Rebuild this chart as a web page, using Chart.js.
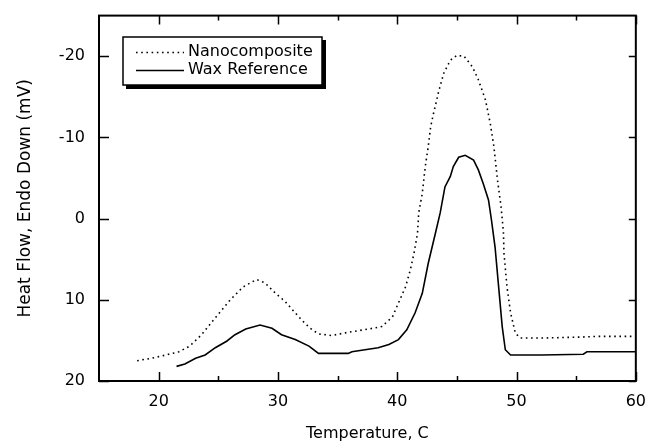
<!DOCTYPE html>
<html>
<head>
<meta charset="utf-8">
<script src="https://cdn.jsdelivr.net/npm/chart.js@4"></script>
<style>
  body { margin: 0; background: #fff; }
</style>
</head>
<body>
<canvas id="dsc" width="649" height="444"></canvas>
<script>
const nanoT = [18.2, 19.4, 20.6, 21.7, 22.6, 23.6, 24.7, 26.0, 27.1, 28.2, 28.9, 29.8, 30.6, 31.2, 32.0, 32.7, 33.4, 34.5, 35.9, 37.6, 38.7, 39.6, 40.1, 40.7, 41.1, 41.4, 41.7, 41.8, 42.1, 42.35, 42.6, 42.8, 43.05, 43.5, 43.9, 44.45, 45.0, 45.6, 46.3, 46.8, 47.4, 47.8, 48.1, 48.4, 48.7, 48.9, 48.95, 49.2, 49.5, 49.9, 50.3, 52.4, 55.2, 56.9, 60.0];
const nanoHF = [17.5, 17.2, 16.8, 16.4, 15.7, 14.3, 12.3, 10.0, 8.4, 7.5, 7.9, 9.2, 10.2, 11.2, 12.5, 13.5, 14.2, 14.4, 14.0, 13.6, 13.3, 12.1, 10.4, 8.4, 6.3, 4.3, 1.8, -0.7, -3.1, -6.4, -8.9, -11.3, -13.0, -15.8, -17.9, -19.5, -20.1, -20.0, -18.7, -17.1, -14.6, -11.7, -8.9, -4.8, -1.5, 1.6, 4.3, 8.4, 11.6, 14.1, 14.7, 14.7, 14.6, 14.5, 14.5];

const waxT = [21.5, 22.2, 23.1, 23.9, 24.75, 25.7, 26.4, 27.3, 28.5, 29.5, 30.3, 31.45, 32.6, 33.4, 35.9, 36.2, 38.4, 39.3, 40.1, 40.8, 41.5, 42.1, 42.6, 43.2, 43.6, 44.0, 44.45, 44.7, 45.15, 45.7, 46.4, 46.8, 47.2, 47.65, 47.9, 48.2, 48.5, 48.8, 49.06, 49.5, 52.1, 55.6, 55.9, 60.0];
const waxHF = [18.2, 17.9, 17.2, 16.8, 15.9, 15.1, 14.3, 13.6, 13.1, 13.5, 14.3, 14.9, 15.7, 16.6, 16.6, 16.4, 15.9, 15.5, 14.9, 13.7, 11.6, 9.2, 5.5, 1.8, -0.7, -3.9, -5.2, -6.4, -7.55, -7.8, -7.2, -6.0, -4.35, -2.3, 0.2, 3.5, 8.4, 13.3, 16.15, 16.8, 16.8, 16.7, 16.4, 16.4];

const xTicks = [20, 30, 40, 50, 60];
const xMinorTicks = [25, 35, 45, 55];
const yTicks = [-20, -10, 0, 10, 20];

Chart.defaults.font.family = 'DejaVu Sans';
Chart.defaults.font.size = 16;
Chart.defaults.color = '#000';

const toPoints = (xs, ys) => xs.map((x, i) => ({ x: x, y: ys[i] }));

// frame, inward tick marks and the boxed legend with a drop shadow
const framePlugin = {
  id: 'frame',
  afterDraw(chart) {
    const ctx = chart.ctx;
    const a = chart.chartArea;
    const xs = chart.scales.x, ys = chart.scales.y;
    ctx.save();
    ctx.strokeStyle = '#000';
    ctx.lineWidth = 2;
    ctx.strokeRect(a.left, a.top, a.right - a.left, a.bottom - a.top);

    ctx.lineWidth = 1.5;
    ctx.beginPath();
    xTicks.forEach(v => {
      const px = Math.round(xs.getPixelForValue(v)) + 0.5;
      ctx.moveTo(px, a.bottom); ctx.lineTo(px, a.bottom - 9);
      ctx.moveTo(px, a.top); ctx.lineTo(px, a.top + 9);
    });
    xMinorTicks.forEach(v => {
      const px = Math.round(xs.getPixelForValue(v)) + 0.5;
      ctx.moveTo(px, a.bottom); ctx.lineTo(px, a.bottom - 5);
      ctx.moveTo(px, a.top); ctx.lineTo(px, a.top + 5);
    });
    yTicks.forEach(v => {
      const py = Math.round(ys.getPixelForValue(v)) + 0.5;
      ctx.moveTo(a.left, py); ctx.lineTo(a.left + 10, py);
      ctx.moveTo(a.right, py); ctx.lineTo(a.right - 7, py);
    });
    ctx.stroke();

    // legend
    const bx = 123, by = 37, bw = 199, bh = 48;
    ctx.fillStyle = '#000';
    ctx.fillRect(bx + 3, by + 3, bw + 1, bh + 1);
    ctx.fillStyle = '#fff';
    ctx.fillRect(bx, by, bw, bh);
    ctx.lineWidth = 1.5;
    ctx.strokeRect(bx, by, bw, bh);

    const rows = [52, 70];
    chart.data.datasets.forEach((ds, i) => {
      const y = rows[i];
      ctx.strokeStyle = ds.borderColor;
      ctx.lineWidth = ds.borderWidth;
      ctx.setLineDash(ds.borderDash || []);
      ctx.beginPath();
      ctx.moveTo(136, y + 0.5);
      ctx.lineTo(184, y + 0.5);
      ctx.stroke();
      ctx.setLineDash([]);
      ctx.fillStyle = '#000';
      ctx.font = '16px "DejaVu Sans"';
      ctx.textBaseline = 'middle';
      ctx.textAlign = 'left';
      ctx.fillText(ds.label, 188, y);
    });
    ctx.restore();
  }
};

new Chart(document.getElementById('dsc'), {
  type: 'scatter',
  data: {
    datasets: [
      {
        label: 'Nanocomposite',
        data: toPoints(nanoT, nanoHF),
        showLine: true,
        borderColor: '#000',
        borderWidth: 1.6,
        borderDash: [1.6, 3.6],
        pointRadius: 0,
        tension: 0
      },
      {
        label: 'Wax Reference',
        data: toPoints(waxT, waxHF),
        showLine: true,
        borderColor: '#000',
        borderWidth: 1.6,
        pointRadius: 0,
        tension: 0
      }
    ]
  },
  options: {
    responsive: false,
    animation: false,
    layout: { padding: { top: 5, right: 4, left: 0, bottom: 0 } },
    plugins: {
      legend: { display: false },
      tooltip: { enabled: false }
    },
    scales: {
      x: {
        type: 'linear',
        min: 15,
        max: 60,
        afterBuildTicks: s => { s.ticks = xTicks.map(v => ({ value: v })); },
        afterFit: s => { s.height = 63; },
        grid: { display: false },
        border: { display: false },
        ticks: { padding: 3 },
        title: { display: true, text: 'Temperature, C', padding: { top: 4, bottom: 1 } }
      },
      y: {
        type: 'linear',
        reverse: true,
        min: -25,
        max: 20,
        afterBuildTicks: s => { s.ticks = yTicks.map(v => ({ value: v })); },
        afterFit: s => { s.width = 99; },
        grid: { display: false },
        border: { display: false },
        ticks: { padding: 6 },
        title: { display: true, text: 'Heat Flow, Endo Down (mV)', font: { size: 17 }, padding: { top: 15, bottom: 4 } }
      }
    }
  },
  plugins: [framePlugin]
});
</script>
</body>
</html>
